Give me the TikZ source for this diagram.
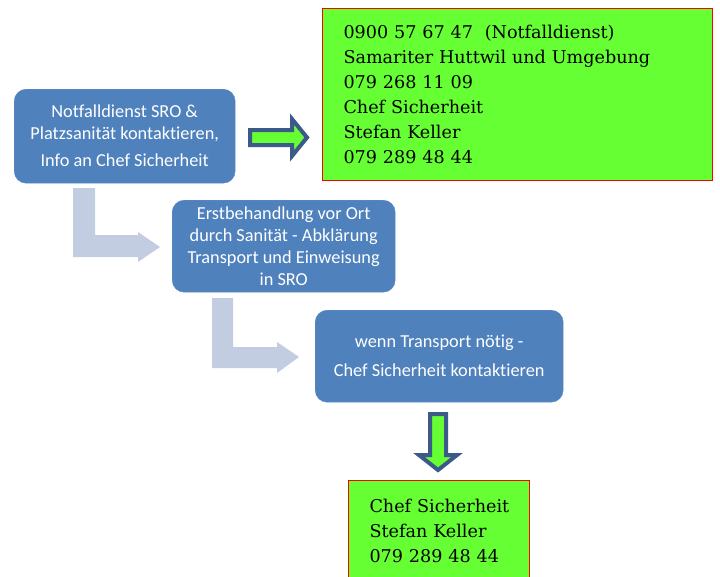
\documentclass[tikz,border=0pt]{standalone}
\usepackage{fontspec}
\setmainfont{DejaVu Serif}
\newfontfamily\calib[Ligatures={NoCommon}]{Carlito}
\definecolor{boxblue}{HTML}{4F81BD}
\definecolor{lightarrow}{HTML}{C3CDE2}
\definecolor{darkarrow}{HTML}{3B5A8A}
\definecolor{limegreen}{HTML}{66FF33}
\tikzset{
  bluebox/.style={fill=boxblue, draw=boxblue!90!white, rounded corners=12pt, text=white,
    font=\calib\fontsize{18.3}{22}\selectfont, align=center, inner sep=0pt, anchor=north west},
  greenbox/.style={fill=limegreen, draw=red, line width=1pt, align=left, inner xsep=21pt, inner ysep=0pt,
    font=\fontsize{17.6}{25}\selectfont, anchor=north west},
  lshape/.style={fill=lightarrow, draw=none},
  blockarrow/.style={fill=limegreen, draw=darkarrow, line width=4pt, miter limit=10}
}
\begin{document}
\begin{tikzpicture}[x=1pt,y=-1pt]
\useasboundingbox (0,0) rectangle (720,576);
\fill[white] (0,0) rectangle (720,576);
% blue boxes
\node[bluebox, minimum width=221pt, minimum height=94pt] (b1) at (14,89)
  {Notfalldienst SRO \&\\Platzsanität kontaktieren,\\[5pt]Info an Chef Sicherheit};
\node[bluebox, minimum width=223pt, minimum height=92pt] (b2) at (172,200)
  {Erstbehandlung vor Ort\\[-0.3pt]durch Sanität - Abklärung\\[-0.3pt]Transport und Einweisung\\[-0.3pt]in SRO};
\node[bluebox, minimum width=248pt, minimum height=92pt] (b3) at (315,310)
  {wenn Transport nötig -\\[7pt]Chef Sicherheit kontaktieren};
% green boxes
\node[greenbox, text width=348pt, minimum height=172pt] (g1) at (322,8)
  {0900 57 67 47\ \ (Notfalldienst)\\Samariter Huttwil und Umgebung\\079 268 11 09\\Chef Sicherheit\\Stefan Keller\\079 289 48 44};
\node[greenbox, text width=139pt, minimum height=100pt] (g2) at (348,480)
  {\mbox{Chef Sicherheit}\\\mbox{Stefan Keller}\\\mbox{079 289 48 44}};
% L-shaped light arrows
\fill[lshape] (73,188) -- (95,188) -- (95,235) -- (138,235) -- (138,232) -- (160,247)
  -- (138,262) -- (138,257) -- (73,257) -- cycle;
\fill[lshape] (212,298) -- (233,298) -- (233,347) -- (277,347) -- (277,342) -- (299,357)
  -- (277,373) -- (277,368) -- (212,368) -- cycle;
% block arrows
\draw[blockarrow] (250,130) -- (292,130) -- (292,119) -- (307,137.5) -- (292,156)
  -- (292,145) -- (250,145) -- cycle;
\draw[blockarrow] (430,414) -- (446,414) -- (446,455) -- (457,455) -- (438,470)
  -- (419,455) -- (430,455) -- cycle;
\end{tikzpicture}
\end{document}
